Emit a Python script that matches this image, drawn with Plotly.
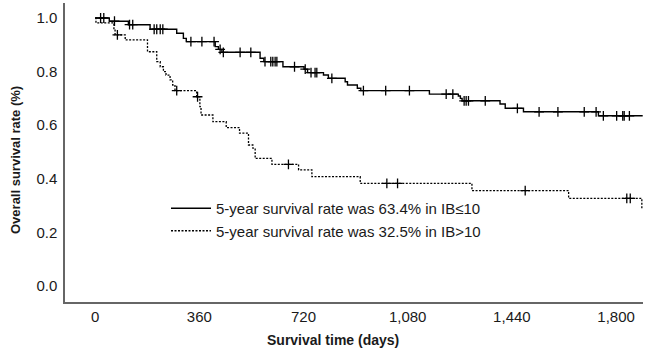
import numpy as np
import plotly.graph_objects as go

# ---- data ----
# IB<=10 : step times (days) and survival after each step
low_times = [0, 49, 115, 190, 282, 305, 315, 415, 426, 438, 570, 583, 649, 722, 734,
             789, 806, 864, 872, 906, 918, 1155, 1255, 1262, 1268, 1399, 1417, 1480,
             1739, 1892]
low_surv = [1.0, 0.988, 0.975, 0.958, 0.943, 0.924, 0.912, 0.893, 0.883, 0.872, 0.85,
            0.837, 0.818, 0.809, 0.796, 0.787, 0.775, 0.762, 0.75, 0.738, 0.729, 0.716,
            0.709, 0.70, 0.691, 0.679, 0.663, 0.650, 0.635, 0.635]
low_censor = [19, 30, 67, 119, 130, 204, 213, 225, 234, 331, 369, 411, 432, 443, 501,
              538, 587, 607, 614, 622, 628, 689, 726, 746, 760, 766, 818, 927, 1004,
              1086, 1213, 1236, 1275, 1282, 1290, 1348, 1459, 1534, 1599, 1690, 1731,
              1756, 1802, 1823, 1828, 1846]

# IB>10
high_times = [0, 3, 65, 69, 104, 181, 213, 225, 236, 245, 259, 268, 276, 351, 362, 366,
              407, 453, 499, 530, 545, 553, 611, 703, 749, 916, 1302, 1636, 1889]
high_surv = [1.0, 0.982, 0.958, 0.937, 0.918, 0.874, 0.837, 0.818, 0.800, 0.787, 0.769,
             0.750, 0.729, 0.706, 0.669, 0.638, 0.613, 0.591, 0.570, 0.526, 0.514, 0.476,
             0.454, 0.433, 0.408, 0.383, 0.356, 0.327, 0.29]
high_censor = [77, 282, 354, 668, 1008, 1045, 1486, 1837, 1849]

legend_names = ["5-year survival rate was 63.4% in IB≤10",
                "5-year survival rate was 32.5% in IB>10"]

x_tick_vals = [0, 360, 720, 1080, 1440, 1800]
x_tick_text = ["0", "360", "720", "1,080", "1,440", "1,800"]
y_tick_vals = [0.0, 0.2, 0.4, 0.6, 0.8, 1.0]

x_title = "Survival time (days)"
y_title = "Overall survival rate (%)"


def surv_at(times, surv, t):
    idx = np.searchsorted(np.array(times), t, side="right") - 1
    return surv[max(idx, 0)]


FONT = "Liberation Sans, Arial, sans-serif"
fig = go.Figure()

series = [
    (low_times, low_surv, low_censor, "solid", 1.4, legend_names[0]),
    (high_times, high_surv, high_censor, "2px,1.5px", 1.3, legend_names[1]),
]
for times, surv, cens, dash, lw, name in series:
    fig.add_trace(go.Scatter(
        x=times, y=surv, mode="lines", line=dict(shape="hv", color="black", width=lw, dash=dash),
        name=name, showlegend=True))
for times, surv, cens, dash, lw, name in series:
    fig.add_trace(go.Scatter(
        x=cens, y=[surv_at(times, surv, t) for t in cens], mode="markers",
        marker=dict(symbol="cross-thin-open", size=7, color="black",
                    line=dict(width=1.3, color="black")),
        showlegend=False, hoverinfo="skip"))

W, H = 649, 353
ml, mr, mt, mb = 65, 6, 3, 51
fig.update_layout(
    width=W, height=H,
    margin=dict(l=ml, r=mr, t=mt, b=mb),
    plot_bgcolor="white", paper_bgcolor="white",
    font=dict(family=FONT, size=15, color="#1a1a1a"),
    legend=dict(x=(166 - ml) / (W - ml - mr), y=(H - mb - 192) / (H - mt - mb),
                xanchor="left", yanchor="top", bgcolor="rgba(0,0,0,0)",
                font=dict(size=15, family=FONT), tracegroupgap=0, itemwidth=40),
)
fig.update_xaxes(range=[-104, 1893], tickvals=x_tick_vals, ticktext=x_tick_text,
                 showgrid=False, zeroline=False, showline=True, linecolor="#666666",
                 linewidth=1.5, ticks="", ticklabelstandoff=0)
fig.update_yaxes(range=[-0.06, 1.056], tickvals=y_tick_vals, tickformat=".1f",
                 showgrid=False, zeroline=False, showline=True, linecolor="#666666",
                 linewidth=1.5, ticks="", ticklabelstandoff=3)

fig.add_annotation(text="<b>" + x_title + "</b>", xref="paper", yref="paper",
                   x=(333 - ml) / (W - ml - mr), y=(H - mb - 340) / (H - mt - mb),
                   showarrow=False, font=dict(size=14, family=FONT, color="#1a1a1a"),
                   xanchor="center", yanchor="middle")
fig.add_annotation(text="<b>" + y_title + "</b>", xref="paper", yref="paper",
                   x=(15 - ml) / (W - ml - mr), y=(H - mb - 160) / (H - mt - mb),
                   showarrow=False, textangle=-90,
                   font=dict(size=13, family=FONT, color="#1a1a1a"),
                   xanchor="center", yanchor="middle")

fig.write_html("out.html", config={"displayModeBar": False},
               post_script="document.body.style.margin='0';document.body.style.overflow='hidden';")
